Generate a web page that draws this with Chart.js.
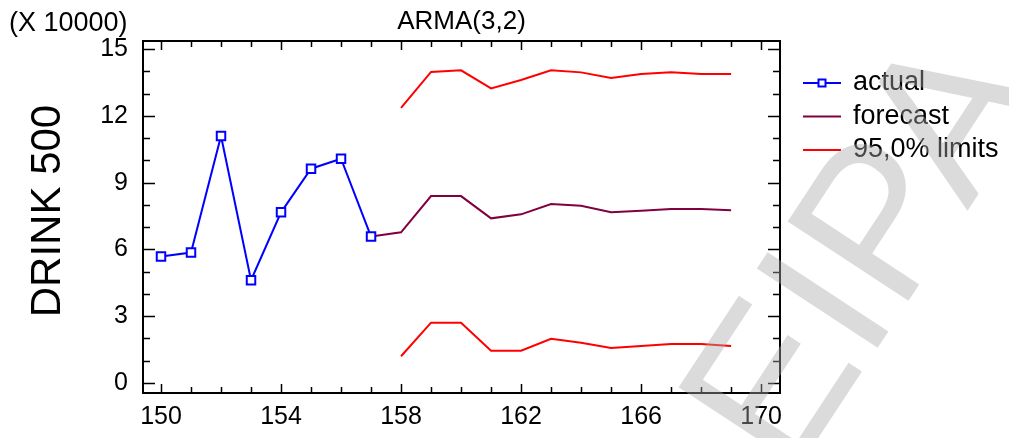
<!DOCTYPE html>
<html>
<head>
<meta charset="utf-8">
<script src="https://cdn.jsdelivr.net/npm/chart.js@4.4.1/dist/chart.umd.min.js"></script>
<style>
  html, body { margin: 0; padding: 0; background: #fff; }
  #wrap { width: 1009px; height: 438px; position: relative; }
</style>
</head>
<body>
<div id="wrap"><canvas id="armaChart"></canvas></div>
<script>
const actualPeriods = [150, 151, 152, 153, 154, 155, 156, 157];
const actualValues = [5.68, 5.86, 11.1, 4.62, 7.67, 9.63, 10.08, 6.58];

const forecastPeriods = [157, 158, 159, 160, 161, 162, 163, 164, 165, 166, 167, 168, 169];
const forecastValues = [6.58, 6.77, 8.40, 8.40, 7.40, 7.58, 8.04, 7.97, 7.67, 7.74, 7.82, 7.82, 7.76];

const limitPeriods = [158, 159, 160, 161, 162, 163, 164, 165, 166, 167, 168, 169];
const upperLimits = [12.36, 13.98, 14.05, 13.24, 13.62, 14.05, 13.96, 13.71, 13.89, 13.96, 13.89, 13.89];
const lowerLimits = [1.20, 2.71, 2.71, 1.45, 1.45, 1.99, 1.81, 1.57, 1.66, 1.75, 1.75, 1.66];

const xTicks = [150, 154, 158, 162, 166, 170];
const yTicks = [0, 3, 6, 9, 12, 15];
const legendLabels = ['actual', 'forecast', '95,0% limits'];

const FONT = '"Liberation Sans", Arial, sans-serif';
const toPoints = (xs, ys) => xs.map((x, i) => ({ x: x, y: ys[i] }));

// frame + inward tick marks, like the original stat package
const framePlugin = {
    id: 'frame',
    afterDatasetsDraw(chart) {
        const { ctx, chartArea: a, scales } = chart;
        const xs = scales.x, ys = scales.y;
        ctx.save();
        ctx.strokeStyle = '#000';
        ctx.lineWidth = 2;
        ctx.strokeRect(a.left, a.top, a.right - a.left, a.bottom - a.top);
        ctx.lineWidth = 1.5;
        ctx.beginPath();
        for (let v = 150; v <= 170; v++) {
            const px = Math.round(xs.getPixelForValue(v)) + 0.5;
            const len = (v % 4 === 2) ? 9 : 6;
            ctx.moveTo(px, a.bottom); ctx.lineTo(px, a.bottom - len);
            ctx.moveTo(px, a.top); ctx.lineTo(px, a.top + len);
        }
        for (let v = 0; v <= 15; v++) {
            const py = Math.round(ys.getPixelForValue(v)) + 0.5;
            const len = (v % 3 === 0) ? 12 : 7;
            ctx.moveTo(a.left, py); ctx.lineTo(a.left + len, py);
            ctx.moveTo(a.right, py); ctx.lineTo(a.right - len, py);
        }
        ctx.stroke();
        ctx.restore();
    }
};

// titles, legend and the grey watermark
const textPlugin = {
    id: 'texts',
    afterDraw(chart) {
        const { ctx, chartArea: a } = chart;
        ctx.save();
        ctx.fillStyle = '#000';
        ctx.textBaseline = 'middle';

        ctx.font = '26px ' + FONT;
        ctx.textAlign = 'center';
        ctx.fillText('ARMA(3,2)', (a.left + a.right) / 2, 22);
        ctx.textAlign = 'left';
        ctx.font = '27px ' + FONT;
        ctx.fillText('(X 10000)', 9, 24);

        ctx.save();
        ctx.translate(48, 211);
        ctx.rotate(-Math.PI / 2);
        ctx.textAlign = 'center';
        ctx.font = '42px ' + FONT;
        ctx.fillText('DRINK 500', 0, 0);
        ctx.restore();

        // legend
        const ds = chart.data.datasets;
        const rows = [ds[0], ds[1], ds[2]];
        ctx.font = '27px ' + FONT;
        ctx.textAlign = 'left';
        rows.forEach((d, i) => {
            const y = 83 + i * 33.5;
            ctx.strokeStyle = d.borderColor;
            ctx.lineWidth = 2;
            ctx.beginPath();
            ctx.moveTo(803, y); ctx.lineTo(841, y);
            ctx.stroke();
            if (i === 0) {
                ctx.fillStyle = '#fff';
                ctx.fillRect(818.5, y - 3.5, 7, 7);
                ctx.strokeRect(818.5, y - 3.5, 7, 7);
            }
            ctx.fillStyle = '#000';
            ctx.fillText(legendLabels[i], 853, y);
        });

        // watermark
        ctx.translate(790, 481);
        ctx.rotate(-56.7 * Math.PI / 180);
        ctx.font = '210px ' + FONT;
        ctx.textBaseline = 'alphabetic';
        ctx.fillStyle = 'rgba(170,170,170,0.42)';
        ctx.fillText('EIPA', 0, 0);
        ctx.restore();
    }
};

new Chart(document.getElementById('armaChart'), {
    type: 'line',
    data: {
        datasets: [
            {
                label: 'actual',
                data: toPoints(actualPeriods, actualValues),
                borderColor: '#0000ff',
                backgroundColor: '#ffffff',
                borderWidth: 2,
                pointStyle: 'rect',
                pointRadius: 6,
                pointBorderWidth: 2,
                pointBorderColor: '#0000ff',
                tension: 0
            },
            {
                label: 'forecast',
                data: toPoints(forecastPeriods, forecastValues),
                borderColor: '#800040',
                borderWidth: 2,
                pointRadius: 0,
                tension: 0
            },
            {
                label: '95,0% limits',
                data: toPoints(limitPeriods, upperLimits),
                borderColor: '#ff0000',
                borderWidth: 2,
                pointRadius: 0,
                tension: 0
            },
            {
                label: '95,0% limits (lower)',
                data: toPoints(limitPeriods, lowerLimits),
                borderColor: '#ff0000',
                borderWidth: 2,
                pointRadius: 0,
                tension: 0
            }
        ]
    },
    options: {
        responsive: true,
        maintainAspectRatio: false,
        animation: false,
        layout: { padding: { top: 41, right: 229, left: 0, bottom: 0 } },
        plugins: {
            legend: { display: false },
            title: { display: false },
            tooltip: { enabled: false }
        },
        scales: {
            x: {
                type: 'linear',
                min: 149.4,
                max: 170.63,
                grid: { display: false, drawTicks: false },
                border: { display: false },
                afterBuildTicks: scale => { scale.ticks = xTicks.map(v => ({ value: v })); },
                afterFit: scale => { scale.height = 45; },
                ticks: {
                    color: '#000',
                    padding: 9,
                    maxRotation: 0,
                    font: { family: FONT, size: 25 }
                }
            },
            y: {
                type: 'linear',
                min: -0.45,
                max: 15.37,
                grid: { display: false, drawTicks: false },
                border: { display: false },
                afterBuildTicks: scale => { scale.ticks = yTicks.map(v => ({ value: v })); },
                afterFit: scale => { scale.width = 143; },
                ticks: {
                    color: '#000',
                    padding: 15,
                    font: { family: FONT, size: 25 }
                }
            }
        }
    },
    plugins: [framePlugin, textPlugin]
});
</script>
</body>
</html>
